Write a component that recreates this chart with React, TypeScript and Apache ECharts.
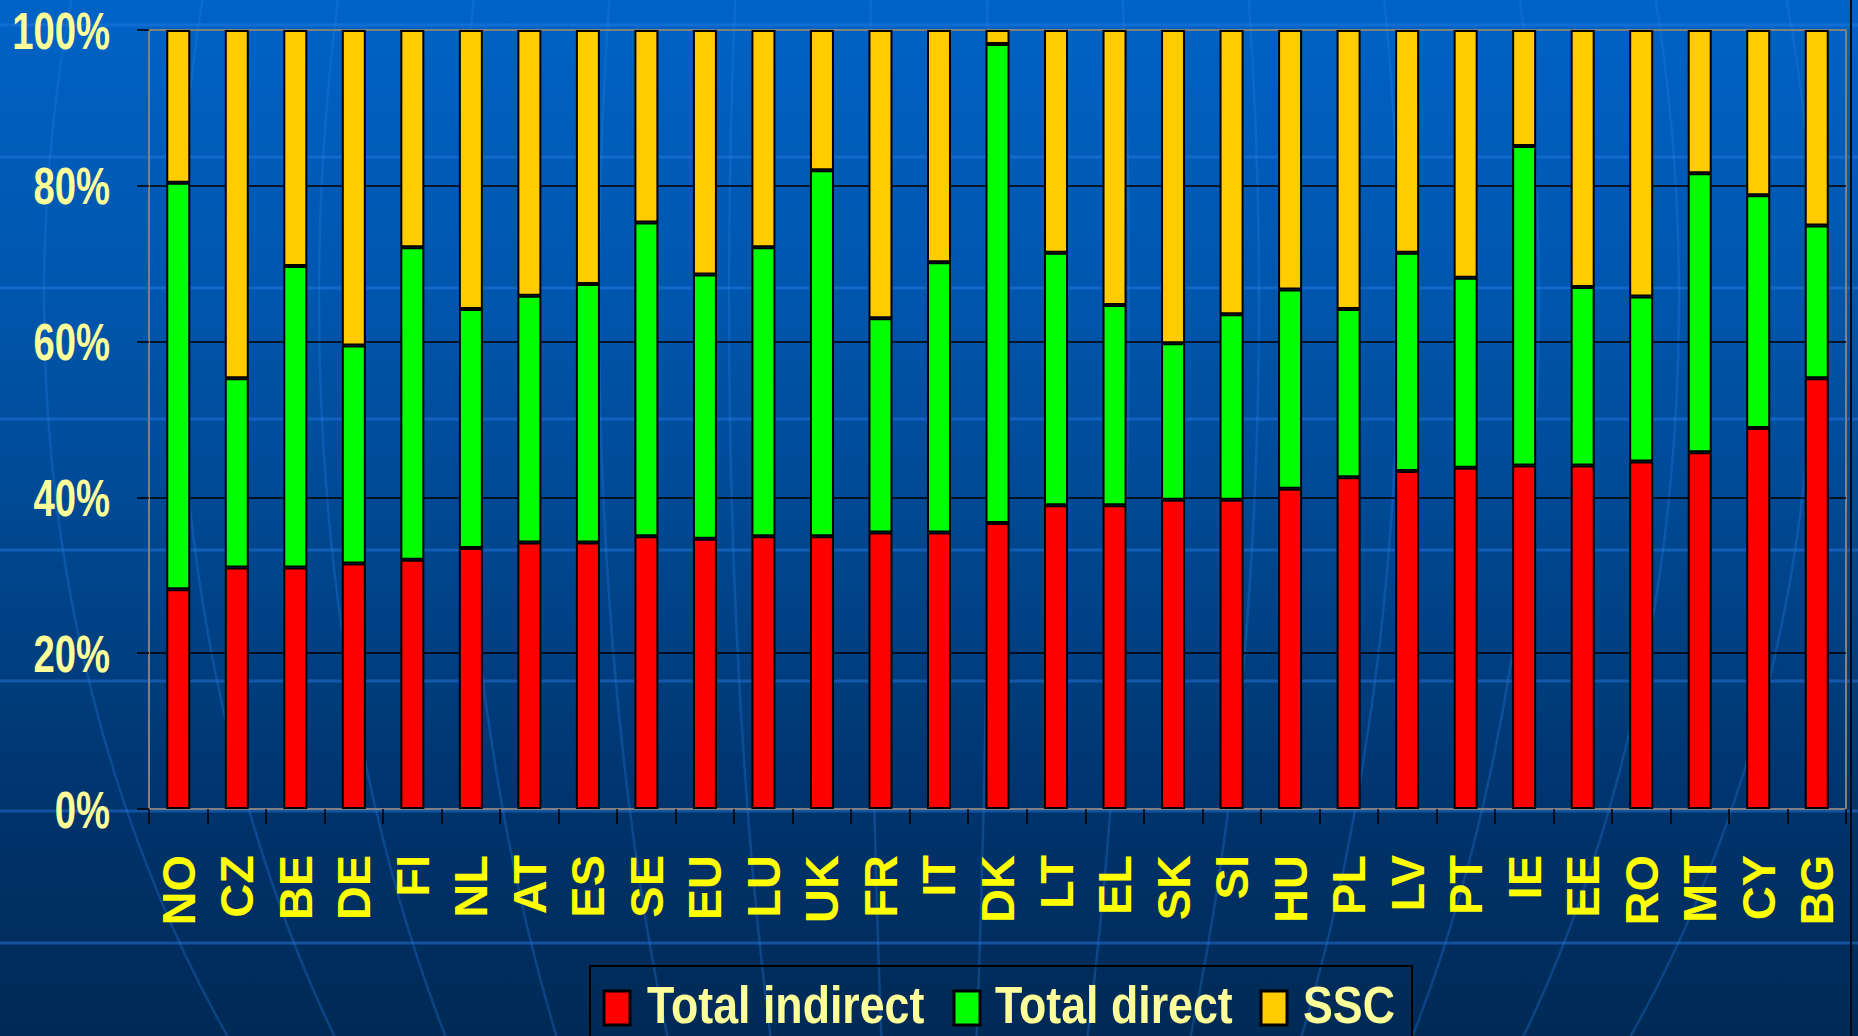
import React, { useEffect, useRef } from "react";
import * as echarts from "echarts";

const categories = ["NO","CZ","BE","DE","FI","NL","AT","ES","SE","EU","LU","UK","FR","IT","DK","LT","EL","SK","SI","HU","PL","LV","PT","IE","EE","RO","MT","CY","BG"];
const totalIndirect = [28.2,31.0,31.0,31.5,32.0,33.5,34.2,34.2,35.0,34.7,35.0,35.0,35.5,35.5,36.7,39.0,39.0,39.7,39.7,41.1,42.6,43.4,43.8,44.1,44.1,44.6,45.8,48.9,55.3];
const totalDirect = [52.2,24.3,38.7,28.0,40.1,30.7,31.7,33.2,40.3,33.9,37.1,47.0,27.5,34.7,61.5,32.4,25.7,20.1,23.8,25.6,21.6,28.0,24.4,41.0,22.9,21.2,35.8,29.9,19.6];
const ssc = [19.6,44.7,30.3,40.5,27.9,35.8,34.1,32.6,24.7,31.4,27.9,18.0,37.0,29.8,1.8,28.6,35.3,40.2,36.5,33.3,35.8,28.6,31.8,14.9,33.0,34.2,18.4,21.2,25.1];
const yTickValues = [0, 20, 40, 60, 80, 100];
const yTickLabels = ["0%", "20%", "40%", "60%", "80%", "100%"];
const seriesNames = ["Total indirect", "Total direct", "SSC"];
const seriesColors = ["#FF0000", "#00FF00", "#FFCC00"];

const SANS = "'Liberation Sans', Arial, Helvetica, sans-serif";

export default function App() {
  const ref = useRef<HTMLDivElement>(null);
  useEffect(() => {
    if (!ref.current) return;
    const chart = echarts.init(ref.current, null, { renderer: "svg" });

    const decoColor = "rgba(40,125,230,0.45)";
    const parallels = [25, 157, 288, 419, 550, 681, 811, 943].map((y) => ({
      type: "line",
      silent: true,
      z: -10,
      shape: { x1: 0, y1: y, x2: 1858, y2: y },
      style: { stroke: decoColor, lineWidth: 3 },
    }));
    const meridians = [60, 200, 330, 470, 610, 750, 885].map((rx) => ({
      type: "ellipse",
      silent: true,
      z: -10,
      shape: { cx: 929, cy: 300, rx, ry: 1207 },
      style: { fill: "none", stroke: "rgba(40,125,230,0.3)", lineWidth: 2.5 },
    }));

    const dataSets = [totalIndirect, totalDirect, ssc];

    chart.setOption({
      animation: false,
      backgroundColor: {
        type: "linear",
        x: 0, y: 0, x2: 0, y2: 1,
        colorStops: [
          { offset: 0, color: "#0063c6" },
          { offset: 0.3, color: "#0055ab" },
          { offset: 0.55, color: "#00458c" },
          { offset: 0.8, color: "#00326a" },
          { offset: 1, color: "#002a55" },
        ],
      },
      grid: {
        left: 149,
        right: 12,
        top: 30,
        bottom: 227,
        show: true,
        borderColor: "#808080",
        borderWidth: 2,
        backgroundColor: "transparent",
        containLabel: false,
        outerBoundsMode: "none",
      },
      legend: { show: false, data: seriesNames },
      xAxis: {
        type: "category",
        data: categories,
        axisLine: { show: true, lineStyle: { color: "#808080", width: 2 } },
        axisTick: { show: true, length: 15, alignWithLabel: false, lineStyle: { color: "#000000", width: 1.5 } },
        axisLabel: {
          rotate: 90,
          margin: 46,
          interval: 0,
          color: "#FFFF00",
          fontFamily: SANS,
          fontWeight: "bold",
          fontSize: 47,
        },
        splitLine: { show: false },
      },
      yAxis: {
        type: "value",
        min: 0,
        max: 100,
        interval: 20,
        axisLine: { show: true, lineStyle: { color: "#808080", width: 2 } },
        axisTick: { show: true, length: 12, lineStyle: { color: "#000000", width: 1.5 } },
        axisLabel: { show: false },
        splitLine: {
          show: true,
          showMinLine: false,
          showMaxLine: false,
          lineStyle: { color: "#000000", width: 1.5 },
        },
      },
      series: seriesNames.map((name, i) => ({
        name,
        type: "bar",
        stack: "total",
        barWidth: 24,
        data: dataSets[i],
        itemStyle: { color: seriesColors[i], borderColor: "#000000", borderWidth: 2 },
        emphasis: { disabled: true },
      })),
    });

    // Y tick labels in a horizontally condensed bold face, placed through the axis scale
    const yLabels = yTickValues.map((v, i) => {
      const py = chart.convertToPixel({ yAxisIndex: 0 }, v) as number;
      return {
        type: "text",
        silent: true,
        z: 10,
        x: 110,
        y: py + 1,
        scaleX: 0.75,
        style: {
          text: yTickLabels[i],
          align: "right",
          verticalAlign: "middle",
          fill: "#FFFF99",
          font: `bold 51px ${SANS}`,
        },
      };
    });

    // Legend (condensed text like the reference)
    const legendX = [604, 954, 1261];
    const legendTextX = [647, 995, 1303];
    const legendItems: any[] = [];
    seriesNames.forEach((name, i) => {
      legendItems.push({
        type: "rect",
        silent: true,
        z: 10,
        shape: { x: legendX[i], y: 991, width: 26, height: 34 },
        style: { fill: seriesColors[i], stroke: "#000000", lineWidth: 3 },
      });
      legendItems.push({
        type: "text",
        silent: true,
        z: 10,
        x: legendTextX[i],
        y: 1005,
        scaleX: 0.86,
        style: {
          text: name,
          align: "left",
          verticalAlign: "middle",
          fill: "#FFFF99",
          font: `bold 52px ${SANS}`,
          lineHeight: 52,
        },
      });
    });

    chart.setOption({
      graphic: [
        ...parallels,
        ...meridians,
        {
          type: "line",
          silent: true,
          z: -5,
          shape: { x1: 1851, y1: 0, x2: 1851, y2: 1036 },
          style: { stroke: "#000814", lineWidth: 2 },
        },
        {
          type: "rect",
          silent: true,
          z: -5,
          shape: { x: 590, y: 966, width: 822, height: 100 },
          style: { fill: "none", stroke: "#000000", lineWidth: 2 },
        },
        ...yLabels,
        ...legendItems,
      ],
    });
    return () => chart.dispose();
  }, []);
  return (
    <div
      ref={ref}
      style={{ position: "absolute", left: 0, top: 0, width: 1858, height: 1036 }}
    />
  );
}
